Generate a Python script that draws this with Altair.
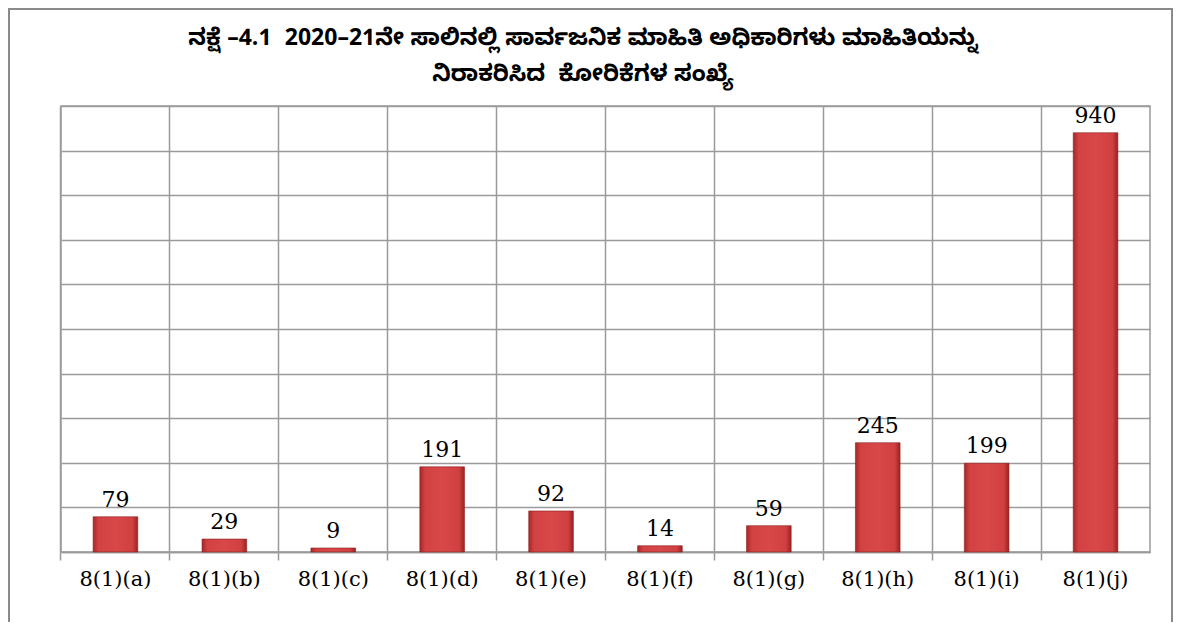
import altair as alt
import pandas as pd

categories = ["8(1)(a)", "8(1)(b)", "8(1)(c)", "8(1)(d)", "8(1)(e)",
              "8(1)(f)", "8(1)(g)", "8(1)(h)", "8(1)(i)", "8(1)(j)"]
values = [79, 29, 9, 191, 92, 14, 59, 245, 199, 940]
title_lines = ["ನಕ್ಷೆ –4.1\u00a0 2020–21ನೇ ಸಾಲಿನಲ್ಲಿ ಸಾರ್ವಜನಿಕ ಮಾಹಿತಿ ಅಧಿಕಾರಿಗಳು ಮಾಹಿತಿಯನ್ನು",
               "ನಿರಾಕರಿಸಿದ\u00a0 ಕೋರಿಕೆಗಳ ಸಂಖ್ಯೆ"]

df = pd.DataFrame({"cat": categories, "val": values})
title_df = pd.DataFrame({"line": title_lines, "row": [0, 1]})

grid_color = "#9a9a9a"
W, H = 1089, 446
pad_inner, pad_outer = 0.59, 0.295
band_pos = -pad_outer / (1 - pad_inner)

x = alt.X("cat:N", sort=categories,
          scale=alt.Scale(paddingInner=pad_inner, paddingOuter=pad_outer),
          axis=alt.Axis(title=None, labelAngle=0, labelFont="DejaVu Serif",
                        labelFontSize=21, labelColor="#000", labelPadding=8,
                        bandPosition=band_pos, grid=True, gridColor=grid_color,
                        gridWidth=1.5, tickColor=grid_color, tickWidth=1.5,
                        tickSize=8, domainColor=grid_color, domainWidth=1.5))
y = alt.Y("val:Q", scale=alt.Scale(domain=[0, 1000], nice=False),
          axis=alt.Axis(title=None, labels=False, ticks=False, domain=False,
                        values=list(range(0, 1001, 100)), grid=True,
                        gridColor=grid_color, gridWidth=1.5))

bars = alt.Chart(df).mark_bar(
    fill=alt.Gradient(gradient="linear", x1=0, x2=1, y1=0, y2=0,
                      stops=[alt.GradientStop(color="#a82626", offset=0),
                             alt.GradientStop(color="#d24242", offset=0.12),
                             alt.GradientStop(color="#d94848", offset=0.5),
                             alt.GradientStop(color="#cf4040", offset=0.88),
                             alt.GradientStop(color="#9c2222", offset=1)]),
    stroke="#8c1f1f", strokeWidth=0.6
).encode(x=x, y=y)

labels = alt.Chart(df).mark_text(
    baseline="bottom", dy=-5, font="DejaVu Serif", fontSize=22, color="#000"
).encode(x=alt.X("cat:N", sort=categories), y="val:Q", text="val:Q")

title_layers = []
for i in range(len(title_lines)):
    title_layers.append(
        alt.Chart(title_df).transform_filter(alt.datum.row == i).mark_text(
            font="Noto Sans Kannada, Noto Sans, sans-serif", fontSize=23,
            fontWeight="bold", color="#000", baseline="middle", align="center"
        ).encode(x=alt.value(522), y=alt.value(-68 + 36 * i), text="line:N")
    )

frame = alt.Chart(df).mark_rect(filled=False, stroke="#8a8a8a", strokeWidth=2).encode(
    x=alt.value(-52), x2=alt.value(1111), y=alt.value(-97), y2=alt.value(700))

chart = alt.layer(bars, labels, *title_layers, frame).properties(
    width=W, height=H,
    autosize=alt.AutoSizeParams(type="none"),
    padding={"left": 53, "top": 98, "right": 24, "bottom": 70},
).configure_view(stroke=grid_color, strokeWidth=1.5)

chart.save("out.html", embed_options={"renderer": "svg", "actions": False})
